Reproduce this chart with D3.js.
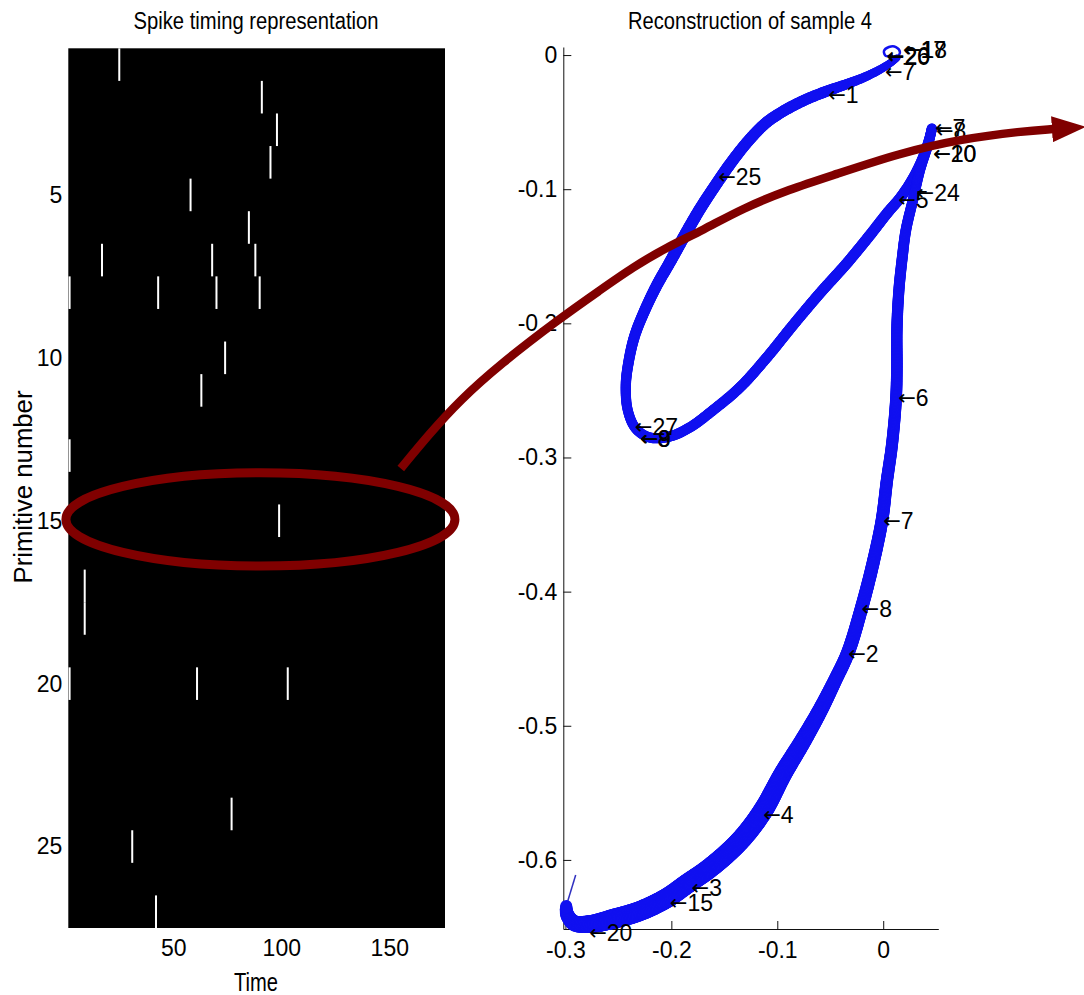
<!DOCTYPE html>
<html>
<head>
<meta charset="utf-8">
<script src="https://cdn.jsdelivr.net/npm/d3@7"></script>
<style>
body { margin: 0; background: #fff; }
text { font-family: "Liberation Sans", Arial, Helvetica, sans-serif; fill: #000; }
</style>
</head>
<body>
<script>
// spike raster, one entry per spike (row = primitive, time = column)
const spikeRow  = [1, 2, 3, 4, 5, 6, 7, 7, 7, 8, 8, 8, 8, 10, 11, 13, 15, 17, 18, 20, 20, 20, 24, 25, 27]
const spikeTime = [25, 91, 98, 95, 58, 85, 17, 68, 88, 2, 43, 70, 90, 74, 63, 2, 99, 9, 9, 2, 61, 103, 77, 31, 42]
const rowTicks  = [5, 10, 15, 20, 25]
const timeTicks = [50, 100, 150]

// reconstructed pen trajectory (sample 4)
const penX = [0.0129, 0.0025, -0.0154, -0.0343, -0.0532, -0.0720, -0.0909, -0.1098, -0.1259, -0.1419,
  -0.1570, -0.1731, -0.1873, -0.2014, -0.2137, -0.2251, -0.2345, -0.2401, -0.2430, -0.2411,
  -0.2336, -0.2204, -0.2014, -0.1826, -0.1609, -0.1353, -0.1098, -0.0853, -0.0598, -0.0343,
  -0.0126, 0.0044, 0.0158, 0.0271, 0.0365, 0.0432, 0.0460, 0.0422, 0.0347, 0.0280,
  0.0214, 0.0177, 0.0148, 0.0129, 0.0129, 0.0120, 0.0082, 0.0035, -0.0012, -0.0097,
  -0.0201, -0.0333, -0.0456, -0.0598, -0.0758, -0.0947, -0.1136, -0.1353, -0.1636, -0.1853,
  -0.2042, -0.2297, -0.2552, -0.2769, -0.2920, -0.2985, -0.2992]
const penY = [-0.0022, -0.0082, -0.0157, -0.0216, -0.0269, -0.0328, -0.0403, -0.0500, -0.0627, -0.0784,
  -0.0955, -0.1149, -0.1343, -0.1545, -0.1716, -0.1903, -0.2090, -0.2276, -0.2463, -0.2649,
  -0.2784, -0.2851, -0.2843, -0.2776, -0.2649, -0.2478, -0.2254, -0.2015, -0.1776, -0.1552,
  -0.1343, -0.1172, -0.1067, -0.0933, -0.0784, -0.0634, -0.0545, -0.0672, -0.0858, -0.1082,
  -0.1306, -0.1530, -0.1754, -0.2052, -0.2351, -0.2575, -0.2910, -0.3172, -0.3470, -0.3791,
  -0.4112, -0.4455, -0.4664, -0.4888, -0.5112, -0.5358, -0.5634, -0.5858, -0.6060, -0.6179,
  -0.6284, -0.6381, -0.6440, -0.6478, -0.6470, -0.6403, -0.6343]
// pen-down squiggle before the stroke and the lift-off flick after it
const startX = [0.0129, 0.0158, 0.0120, 0.0054, 0.0007, 0.0025, 0.0091]
const startY = [-0.0022, 0.0022, 0.0060, 0.0060, 0.0030, -0.0007, 0.0000]
const tailX = [-0.2992, -0.2903]
const tailY = [-0.6343, -0.6112]

// primitive onset labels
const labelText = ["20", "26", "17", "18", "7", "1", "25", "7", "8", "20", "10", "24", "5",
  "27", "8", "9", "6", "7", "8", "2", "4", "3", "15", "20"]
const labelX = [0.0034, 0.0034, 0.0186, 0.0196, 0.0016, -0.0519, -0.1558, 0.0488, 0.0498, 0.0472, 0.0472, 0.0315, 0.0142,
  -0.2345, -0.2297, -0.2290, 0.0142, 0.0000, -0.0204, -0.0331, -0.1133, -0.1809, -0.2014, -0.2776]
const labelY = [-0.0015, -0.0007, 0.0037, 0.0037, -0.0125, -0.0299, -0.0908, -0.0545, -0.0567, -0.0741, -0.0741, -0.1032, -0.1082,
  -0.2774, -0.2860, -0.2860, -0.2560, -0.3470, -0.4129, -0.4465, -0.5664, -0.6207, -0.6323, -0.6547]
const xTicks = [-0.3, -0.2, -0.1, 0]
const yTicks = [0, -0.1, -0.2, -0.3, -0.4, -0.5, -0.6]

// annotation: ellipse around primitive 15, arrow into the reconstruction
const ringTime = [0.3, 180.4]
const ringRow = [13.53, 16.39]
const arrowX = [-0.4554, -0.4281, -0.3998, -0.3619, -0.3053, -0.2675, -0.2364, -0.2043, -0.1703, -0.1325,
  -0.0881, -0.0475, 0.0158, 0.0724, 0.1319, 0.1602]
const arrowY = [-0.3082, -0.2821, -0.2575, -0.2306, -0.1963, -0.1754, -0.1582, -0.1433, -0.1306, -0.1142,
  -0.1000, -0.0896, -0.0731, -0.0627, -0.0567, -0.0552]

const svg = d3.select("body").append("svg")
    .attr("width", 1084)
    .attr("height", 995)

// ---------- left: spike raster ----------
const xT = d3.scaleLinear().domain([1.4, 175.8]).range([68.3, 445])
const yR = d3.scaleLinear().domain([0.5, 27.5]).range([48.3, 928])

const left = svg.append("g")
left.append("rect")
    .attr("x", xT.range()[0])
    .attr("y", yR.range()[0])
    .attr("width", xT.range()[1] - xT.range()[0])
    .attr("height", yR.range()[1] - yR.range()[0])
    .attr("fill", "#000")

left.selectAll("rect.spike")
    .data(spikeTime)
    .enter()
    .append("rect")
    .attr("class", "spike")
    .attr("x", d => xT(d) - 1)
    .attr("y", (d, i) => yR(spikeRow[i] - 0.5))
    .attr("width", 2)
    .attr("height", yR(1.5) - yR(0.5))
    .attr("fill", "#fff")

const lAxisY = left.append("g")
    .attr("transform", `translate(${xT.range()[0]},0)`)
    .call(d3.axisLeft(yR).tickValues(rowTicks).tickSize(0).tickPadding(6))
const lAxisX = left.append("g")
    .attr("transform", `translate(0,${yR.range()[1]})`)
    .call(d3.axisBottom(xT).tickValues(timeTicks).tickSize(0).tickPadding(12))
lAxisY.select(".domain").remove()
lAxisX.select(".domain").remove()

left.append("text")
    .attr("x", 256).attr("y", 29)
    .attr("text-anchor", "middle")
    .attr("font-size", 23)
    .attr("textLength", 245).attr("lengthAdjust", "spacingAndGlyphs")
    .text("Spike timing representation")
left.append("text")
    .attr("x", 256).attr("y", 991)
    .attr("text-anchor", "middle")
    .attr("font-size", 25)
    .attr("textLength", 44).attr("lengthAdjust", "spacingAndGlyphs")
    .text("Time")
left.append("text")
    .attr("transform", "translate(32,487) rotate(-90)")
    .attr("text-anchor", "middle")
    .attr("font-size", 25)
    .attr("textLength", 193).attr("lengthAdjust", "spacingAndGlyphs")
    .text("Primitive number")

// ---------- right: reconstruction ----------
const rx = d3.scaleLinear().domain([-0.302, 0.052]).range([563.3, 938.3])
const ry = d3.scaleLinear().domain([-0.6515, 0.006]).range([929, 47])

const right = svg.append("g")
const fmt = d => d === 0 ? "0" : String(d)
right.append("g")
    .attr("transform", `translate(${rx.range()[0]},0)`)
    .call(d3.axisLeft(ry).tickValues(yTicks).tickFormat(fmt).tickSizeInner(-8).tickSizeOuter(0).tickPadding(6))
right.append("g")
    .attr("transform", `translate(0,${ry.range()[0]})`)
    .call(d3.axisBottom(rx).tickValues(xTicks).tickFormat(fmt).tickSizeInner(-8).tickSizeOuter(0).tickPadding(13))

svg.selectAll(".tick text").attr("font-size", 23).attr("fill", "#000")
svg.selectAll(".domain, .tick line").attr("stroke", "#111")

right.append("text")
    .attr("x", 750).attr("y", 29)
    .attr("text-anchor", "middle")
    .attr("font-size", 23)
    .attr("textLength", 244).attr("lengthAdjust", "spacingAndGlyphs")
    .text("Reconstruction of sample 4")

const blue = "#1010f0"
const smooth = d3.line().curve(d3.curveCatmullRom.alpha(0.5))

// thin pen-down squiggle and lift-off flick
right.append("path")
    .attr("d", smooth(startX.map((x, i) => [rx(x), ry(startY[i])])))
    .attr("fill", "none").attr("stroke", blue).attr("stroke-width", 2.5)
right.append("path")
    .attr("d", smooth(tailX.map((x, i) => [rx(x), ry(tailY[i])])))
    .attr("fill", "none").attr("stroke", "#3030c0").attr("stroke-width", 1.5)

// main stroke, drawn as short pieces so its width can vary along the pen path
const pts = penX.map((x, i) => [rx(x), ry(penY[i])])
const tmp = right.append("path").attr("fill", "none")
const cum = pts.map((p, i) => {
    if (i == 0) return 0
    tmp.attr("d", smooth(pts.slice(0, i + 1)))
    return tmp.node().getTotalLength()
})
tmp.attr("d", smooth(pts))
const total = tmp.node().getTotalLength()
const idxAt = d3.scaleLinear().domain(cum).range(d3.range(pts.length)).clamp(true)
const widthStops = [[0, 7], [4, 11], [12, 12], [19, 10], [30, 11], [37, 10], [46, 12], [52, 14], [56, 20], [62, 20], [66, 12]]
const widthAt = d3.scaleLinear().domain(widthStops.map(s => s[0])).range(widthStops.map(s => s[1])).clamp(true)

const samples = d3.range(0, total, 1.5).concat([total]).map(l => {
    const p = tmp.node().getPointAtLength(l)
    return { x: p.x, y: p.y, w: widthAt(idxAt(l)) }
})
tmp.remove()

right.selectAll("line.pen")
    .data(samples.slice(1))
    .enter()
    .append("line")
    .attr("class", "pen")
    .attr("x1", (d, i) => samples[i].x)
    .attr("y1", (d, i) => samples[i].y)
    .attr("x2", d => d.x)
    .attr("y2", d => d.y)
    .attr("stroke", blue)
    .attr("stroke-width", d => d.w)
    .attr("stroke-linecap", "round")

const onset = right.selectAll("text.onset")
    .data(labelText)
    .enter()
    .append("text")
    .attr("class", "onset")
    .attr("x", (d, i) => rx(labelX[i]))
    .attr("y", (d, i) => ry(labelY[i]))
    .attr("dominant-baseline", "central")
    .attr("font-size", 23)
onset.append("tspan")
    .attr("font-family", "DejaVu Sans")
    .attr("font-size", 21)
    .text("\u2190")
onset.append("tspan")
    .text(d => d)

// ---------- annotation overlay ----------
const maroon = "#800000"
svg.append("defs").append("marker")
    .attr("id", "head")
    .attr("markerUnits", "userSpaceOnUse")
    .attr("viewBox", "0 -15 36 30")
    .attr("refX", 1).attr("refY", 0)
    .attr("markerWidth", 36).attr("markerHeight", 30)
    .attr("orient", "auto")
    .append("path")
    .attr("d", "M0,-13L34,0L0,13Z")
    .attr("fill", maroon)

svg.append("ellipse")
    .attr("cx", (xT(ringTime[0]) + xT(ringTime[1])) / 2)
    .attr("cy", (yR(ringRow[0]) + yR(ringRow[1])) / 2)
    .attr("rx", (xT(ringTime[1]) - xT(ringTime[0])) / 2)
    .attr("ry", (yR(ringRow[1]) - yR(ringRow[0])) / 2)
    .attr("fill", "none")
    .attr("stroke", maroon)
    .attr("stroke-width", 9)

svg.append("path")
    .attr("d", d3.line().curve(d3.curveBasis)(arrowX.map((x, i) => [rx(x), ry(arrowY[i])])))
    .attr("fill", "none")
    .attr("stroke", maroon)
    .attr("stroke-width", 8.5)
    .attr("marker-end", "url(#head)")
</script>
</body>
</html>
